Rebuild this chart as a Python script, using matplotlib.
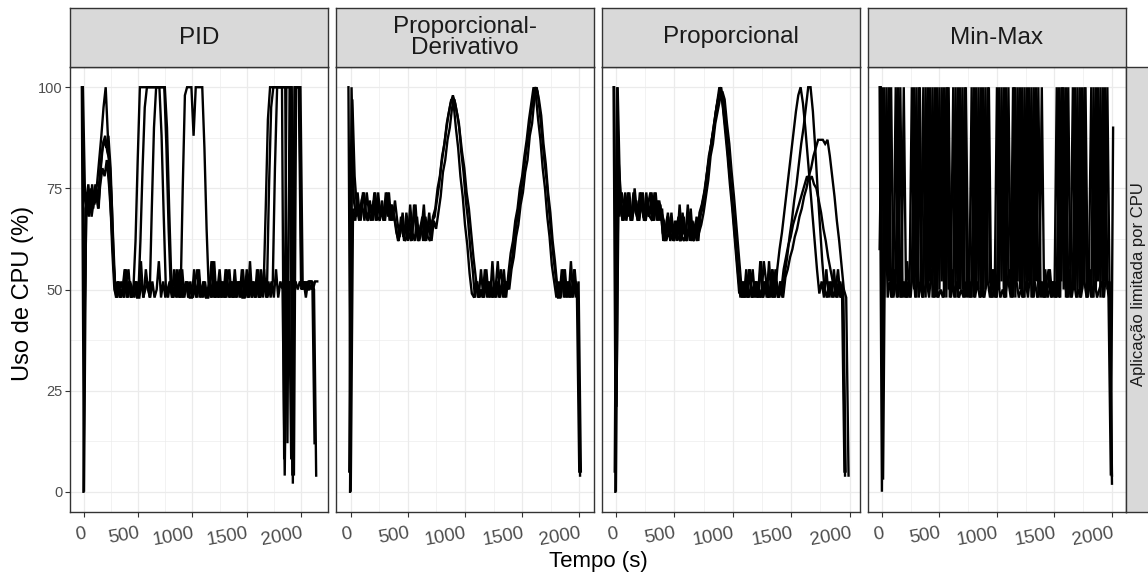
import numpy as np
import matplotlib
matplotlib.use("Agg")
import matplotlib.pyplot as plt
from matplotlib.ticker import MultipleLocator

plt.rcParams['font.family'] = ['Liberation Sans', 'DejaVu Sans']

# ---------------- data (CPU usage %, one sample every STEP seconds) ----------------
STEP = 20
T_START = -20

pid_run1 = [100, 0,
            72, 76, 70, 74, 72, 76,
            82, 88, 95, 100,
            88, 74, 60, 50,
            48, 52, 48, 50, 55, 48, 52, 48, 50, 52, 48,
            62, 80, 95, 100,
            100, 100, 100, 100, 100, 100, 100, 100,
            85, 65, 50,
            48, 52, 48, 55, 48, 50, 52, 48, 52, 48,
            50, 48, 55, 48, 52, 48, 50, 52, 48, 57,
            48, 52, 48, 50, 48, 52, 55, 48, 52, 48,
            50, 52, 48, 48, 55, 48, 52, 50, 48, 52,
            48, 50, 55, 48, 52, 48, 52,
            80, 100,
            100, 100, 100, 100, 100, 100, 4, 100, 100,
            100, 52, 50, 52, 50, 52, 52, 50, 4]
pid_run2 = [100, 43,
            74, 68, 75, 70, 76, 72,
            78, 84, 87, 85,
            88, 80, 65, 52,
            48, 50, 52, 48, 55, 48, 52, 50, 48, 52, 48, 57, 48, 50, 52, 48,
            70, 90, 100,
            100, 100, 100, 100,
            90, 70, 52,
            48, 52, 50, 48, 55, 48, 52, 48, 50, 48,
            52, 55, 48, 50, 52, 48, 48, 52, 57, 48,
            50, 48, 52, 48, 55, 50, 48, 52, 48, 50,
            52, 48, 55, 48, 50, 52, 48, 52, 48, 55,
            48, 50, 52, 48,
            75, 95, 100,
            100, 100, 100, 100, 8, 100, 100, 100, 2, 100, 100,
            100, 50, 52, 48, 52, 50, 52, 12]
pid_run3 = [100, 72,
            70, 74, 68, 72, 75, 70,
            76, 80, 78, 82,
            76, 68, 58, 50,
            52, 48, 50, 48, 52, 55, 48, 50, 52, 48,
            48, 52, 48, 55, 50, 48, 52, 48, 50, 57,
            48, 52, 48, 50, 52, 48, 55, 48, 52, 48,
            75, 98, 100,
            100, 100, 88, 100, 100, 100, 100,
            85, 65, 50,
            48, 52, 48, 50, 55, 48, 52, 48, 50, 52,
            48, 55, 48, 52, 50, 48, 52, 48, 57, 48,
            50, 52, 48, 55, 48, 52, 48, 50, 52, 48,
            55, 48, 52,
            50, 4, 50, 52, 8, 48, 52, 50,
            52, 50, 52, 50, 52, 52, 50, 52, 52]
pid_run4 = [0, 70,
            72, 69, 76, 71, 73, 70,
            80, 86, 88, 84,
            82, 72, 55, 48,
            52, 48, 50, 55, 48, 52, 48, 50,
            62, 82, 100,
            100, 100, 100, 100, 100, 100, 100, 100, 100,
            88, 68, 50,
            48, 52, 48, 50, 55, 48, 52, 48, 50, 52,
            48, 48, 55, 48, 52, 50, 48, 52, 48, 50,
            57, 48, 52, 48, 50, 52, 48, 55, 48, 52,
            48, 50, 52, 48, 55, 48, 52, 48, 50, 52,
            48, 55, 48, 52, 50,
            70, 92, 100,
            100, 100, 100, 100, 100, 100, 100, 12, 100, 100, 4, 100, 100,
            100, 52, 50, 52, 50]

pd_run1 = [100, 0,
           70, 67, 74, 68, 71, 67, 74, 69, 67, 72, 67, 74, 68, 70, 67, 74, 67, 71, 68,
           64, 62, 68, 63, 66, 62, 71, 64, 62, 68, 62, 65, 71, 62, 66, 63, 68,
           70, 75, 78, 83, 86, 91, 94, 97,
           96, 90, 85, 78, 73, 66, 61, 54, 49,
           48, 52, 48, 55, 48, 50, 52, 48, 57, 48, 52, 48, 50, 55, 48,
           54, 59, 62, 67, 70, 75, 78, 83, 87, 92, 96, 100,
           98, 92, 87, 80, 75, 68, 63, 56, 52, 48,
           52, 48, 55, 48, 52, 48, 50, 55, 48,
           5]
pd_run2 = [5, 100,
           72, 68, 71, 67, 74, 70, 67, 72, 68, 74, 67, 71, 69, 67, 74, 68, 71, 67, 72, 67,
           63, 67, 62, 69, 64, 62, 66, 71, 62, 65, 68, 62, 64, 69, 62, 67, 65,
           69, 73, 79, 82, 87, 90, 95, 97,
           94, 91, 84, 79, 72, 67, 60, 55, 48,
           52, 48, 50, 48, 55, 48, 52, 48, 50, 57, 48, 52, 48, 52, 50,
           55, 58, 63, 66, 71, 74, 79, 82, 88, 91, 97, 100,
           97, 93, 86, 81, 74, 69, 62, 57, 51, 48,
           55, 48, 52, 48, 57, 48, 52, 50,
           4]
pd_run3 = [0, 97,
           78, 70, 67, 72, 74, 68, 67, 71, 67, 74, 68, 67, 72, 67, 70, 74, 67, 69,
           66, 62, 64, 69, 62, 63, 67, 62, 71, 64, 62, 66, 62, 68, 63, 62, 67,
           68, 72, 76, 81, 85, 89, 93, 96,
           98, 96, 93,
           89, 84, 80, 74, 70, 64, 58, 53, 48,
           50, 48, 55, 48, 52, 48, 50, 48, 52, 55, 48, 52,
           50, 54, 58, 63, 67, 70, 75, 79, 84, 88, 93, 97, 100,
           99, 94, 88, 82, 77, 70, 64, 58, 53, 48,
           48, 52, 55, 48, 52, 48, 55, 48, 52,
           5]

prop_run1 = [100, 0,
             78, 70, 67, 74, 68, 71, 67, 75, 69, 67, 72, 67, 74, 68, 70, 67, 74, 67, 71,
             64, 62, 68, 63, 66, 62, 67, 64, 62, 68, 62, 65, 70, 62, 66, 63, 68,
             70, 74, 79, 82, 87, 90, 95, 98, 100,
             96, 90, 84, 77, 71, 64, 57, 50,
             48, 52, 48, 55, 48, 50, 52, 48, 57, 48, 52, 48, 50, 55, 48,
             55, 60, 64, 69, 74, 79, 84, 89, 94, 98, 100,
             96, 90, 83, 76, 69, 62, 55, 49,
             52, 48, 55, 48, 52, 48, 50, 55, 48, 52,
             4]
prop_run2 = [100, 21, 81,
             72, 67, 70, 74, 67, 69, 72, 67, 74, 70, 67, 71, 68, 74, 67, 72, 68, 70,
             62, 65, 69, 62, 64, 67, 62, 71, 63, 62, 66, 69, 62, 64, 67, 62, 69,
             72, 75, 80, 84, 88, 92, 96, 100, 98,
             93, 88, 81, 75, 68, 61, 54, 48,
             52, 48, 50, 55, 48, 52, 48, 50, 48, 57, 52, 48, 50, 48, 55, 48, 52, 48,
             54, 58, 63, 67, 72, 76, 81, 86, 90, 95, 100, 100,
             94, 85, 75, 66, 57, 50,
             48, 52, 48, 55, 48, 52, 48, 50,
             5]
prop_run3 = [5, 100,
             68, 74, 70, 67, 72, 67, 74, 69, 67, 71, 74, 67, 70, 68, 67, 74, 67, 72, 69,
             67, 62, 64, 68, 62, 66, 63, 62, 69, 64, 62, 67, 63, 62, 68, 64, 66,
             69, 73, 77, 83, 86, 91, 94, 97, 99,
             97, 91, 86, 79, 73, 66, 59, 52,
             48, 52, 48, 50, 55, 48, 52, 48, 50, 52, 48, 57, 48, 52, 50, 48, 52, 48,
             53, 55, 58, 60, 63, 65, 68, 70, 73, 75, 78, 80, 83, 85, 87,
             87, 87, 86, 87,
             83, 78, 73, 67, 62, 56, 50,
             48, 4]
prop_run4 = [0, 100,
             74, 67, 71, 68, 74, 67, 70, 72, 67, 74, 68, 67, 71, 74, 67, 69, 72, 67, 70,
             62, 66, 63, 69, 62, 64, 68, 62, 65, 63, 71, 62, 67, 64, 62, 69,
             71, 74, 78, 83, 86, 90, 94, 97, 100,
             95, 89, 83, 76, 70, 63, 56, 49,
             52, 48, 55, 48, 50, 48, 52, 48, 57, 48, 50, 52, 48, 55, 48, 52, 48, 50,
             55, 58, 61, 63, 66, 68, 70, 72, 74, 76, 78, 77,
             78, 76, 75, 72,
             69, 65, 62, 58, 55, 52, 50, 48,
             52, 48, 5]

mm_run1 = [100, 0, 100, 55, 100, 48, 52, 100, 48, 100,
           48, 52, 48, 50, 100, 50, 100, 48, 52,
           100, 48, 100, 52, 100, 48, 100, 50, 100, 48, 100, 50, 52,
           100, 48, 100, 50, 100, 48, 52, 48,
           100, 48, 100, 50, 100, 48, 100, 52, 48, 55, 48,
           100, 50, 100, 48, 100, 52, 48,
           100, 48, 100, 50, 100, 48, 100, 52, 100, 48, 100,
           48, 52, 48, 55, 48, 50, 52, 48,
           100, 48, 100, 50, 100, 48, 52,
           100, 50, 100, 48, 100, 52, 48, 55,
           100, 48, 100, 52, 100, 48, 100, 50,
           52, 4]
mm_run2 = [60, 100, 48, 100, 52, 100, 48, 52, 100, 48,
           52, 48, 57, 48, 52, 100, 48, 100, 50,
           48, 100, 50, 100, 48, 100, 48, 100, 52, 100, 48, 100, 48,
           52, 100, 48, 100, 50, 100, 48, 52,
           48, 100, 50, 100, 48, 100, 50, 100, 52, 48, 50,
           48, 100, 52, 100, 48, 100, 52,
           48, 100, 52, 100, 48, 100, 50, 100, 48, 100, 52,
           100, 48, 52, 48, 50, 55, 48, 52,
           48, 100, 52, 100, 48, 100, 48,
           52, 100, 48, 100, 50, 100, 48, 52,
           48, 100, 50, 100, 48, 100, 52, 100,
           48, 2]
mm_run3 = [100, 3, 75, 48, 52,
           48, 55, 48, 52, 48, 100, 48, 52, 48, 57, 48, 52, 100, 48, 50, 52, 48, 55, 48, 52,
           48, 50, 48, 52, 100, 48, 55, 48, 52, 48, 50, 48, 100, 52, 48, 55, 48, 52, 48, 50,
           48, 52, 100, 48, 55, 48, 52, 48, 50, 48, 52, 55, 48, 100, 52, 48, 50, 48, 52, 48,
           55, 48, 52, 48, 50, 100, 48, 52, 55, 48, 52, 48, 50, 48, 100, 52, 48, 55, 48, 52,
           48, 50, 48, 52, 100, 48, 55, 48, 52, 48, 50, 52, 48, 55, 48,
           4, 90]

# start-time offset (s) of each run within its panel
pid_offsets = [0, 5, 10, 15]
pd_offsets = [0, 7, 14]
prop_offsets = [0, 5, 10, 15]
mm_offsets = [0, 0, 10]

panel_titles = ["PID", "Proporcional-\nDerivativo", "Proporcional", "Min-Max"]
panel_runs = [[pid_run1, pid_run2, pid_run3, pid_run4],
              [pd_run1, pd_run2, pd_run3],
              [prop_run1, prop_run2, prop_run3, prop_run4],
              [mm_run1, mm_run2, mm_run3]]
panel_offsets = [pid_offsets, pd_offsets, prop_offsets, mm_offsets]
row_label = "Aplicação limitada por CPU"
x_ticks = [0, 500, 1000, 1500, 2000]
y_ticks = [0, 25, 50, 75, 100]

# ---------------- layout ----------------
W, H = 1148, 576
fig = plt.figure(figsize=(W / 100, H / 100), dpi=100)
fig.patch.set_facecolor('white')

lefts = [70, 336, 602, 868]
pw = 258
ptop, pbot = 67, 512
strip_top = 8
xlims = [(-129, 2249), (-129, 2129), (-119, 2088), (-121, 2122)]

border = '#333333'
grid_c = '#EBEBEB'
text_c = '#4D4D4D'

for k, (title, runs, offs) in enumerate(zip(panel_titles, panel_runs, panel_offsets)):
    ax = fig.add_axes([lefts[k] / W, 1 - pbot / H, pw / W, (pbot - ptop) / H])
    for r, off in zip(runs, offs):
        t = T_START + off + STEP * np.arange(len(r))
        ax.plot(t, r, color='black', lw=1.7, solid_joinstyle='miter', zorder=3)
    ax.set_xlim(*xlims[k])
    ax.set_ylim(-5, 105)
    ax.set_xticks(x_ticks)
    ax.xaxis.set_minor_locator(MultipleLocator(250))
    ax.set_yticks(y_ticks)
    ax.yaxis.set_minor_locator(MultipleLocator(12.5))
    ax.grid(which='major', color=grid_c, lw=0.9, zorder=0)
    ax.grid(which='minor', color=grid_c, lw=0.45, zorder=0)
    ax.set_axisbelow(True)
    for s in ax.spines.values():
        s.set_color(border)
        s.set_linewidth(1.0)
    ax.tick_params(which='minor', length=0)
    ax.tick_params(which='major', length=3.5, width=0.8, color=border,
                   labelcolor=text_c, pad=2)
    ax.tick_params(axis='x', pad=6)
    ax.set_xticklabels([str(v) for v in x_ticks], fontsize=13.5,
                       rotation=10, ha='right', rotation_mode='anchor')
    if k == 0:
        ax.set_yticklabels([str(v) for v in y_ticks], fontsize=10.5)
    else:
        ax.tick_params(axis='y', labelleft=False, length=0)

    # strip
    sax = fig.add_axes([lefts[k] / W, 1 - ptop / H, pw / W, (ptop - strip_top) / H])
    sax.set_facecolor('#D9D9D9')
    sax.set_xticks([])
    sax.set_yticks([])
    for s in sax.spines.values():
        s.set_color(border)
        s.set_linewidth(1.0)
    sax.text(0.5, 0.5, title, ha='center', va='center', fontsize=17.5,
             color='#1A1A1A', linespacing=0.9, transform=sax.transAxes)

# right strip
rax = fig.add_axes([1126 / W, 1 - pbot / H, 26 / W, (pbot - ptop) / H])
rax.set_facecolor('#D9D9D9')
rax.set_xticks([])
rax.set_yticks([])
for s in rax.spines.values():
    s.set_color(border)
    s.set_linewidth(1.0)
fig.text(1139 / W, 1 - 284 / H, row_label, rotation=90,
         ha='center', va='center', fontsize=12, color='#1A1A1A')

fig.text(23 / W, 1 - 293 / H, "Uso de CPU (%)", rotation=90,
         ha='center', va='center', fontsize=17, color='black')
fig.text(598 / W, 1 - 562 / H, "Tempo (s)", ha='center', va='center',
         fontsize=16, color='black')

fig.savefig('out.png', dpi=100)
